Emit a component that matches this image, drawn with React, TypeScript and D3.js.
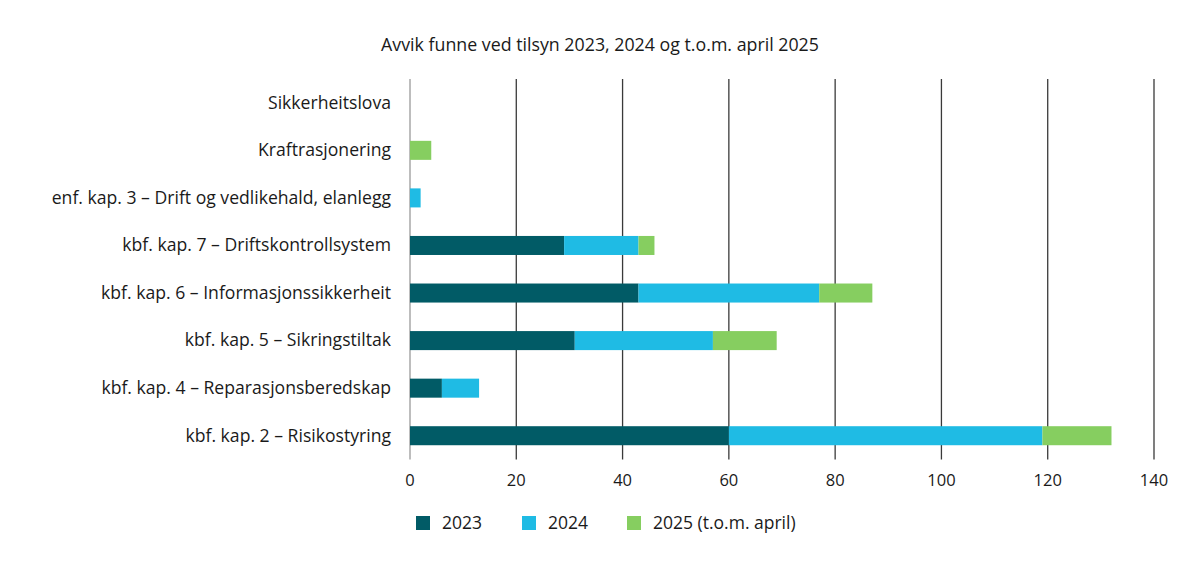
import React from "react";
import * as d3 from "d3";

const categories = [
  "Sikkerheitslova",
  "Kraftrasjonering",
  "enf. kap. 3 – Drift og vedlikehald, elanlegg",
  "kbf. kap. 7 – Driftskontrollsystem",
  "kbf. kap. 6 – Informasjonssikkerheit",
  "kbf. kap. 5 – Sikringstiltak",
  "kbf. kap. 4 – Reparasjonsberedskap",
  "kbf. kap. 2 – Risikostyring",
];
const values2023 = [0, 0, 0, 29, 43, 31, 6, 60];
const values2024 = [0, 0, 2, 14, 34, 26, 7, 59];
const values2025 = [0, 4, 0, 3, 10, 12, 0, 13];
const seriesNames = ["2023", "2024", "2025 (t.o.m. april)"];
const seriesColors = ["#015b66", "#1fbbe4", "#86ce60"];
const xTicks = [0, 20, 40, 60, 80, 100, 120, 140];
const title = "Avvik funne ved tilsyn 2023, 2024 og t.o.m. april 2025";

const W = 1200;
const H = 569;
const FONT = "'Open Sans', 'Noto Sans', sans-serif";

export default function App() {
  const x = d3.scaleLinear().domain([0, 140]).range([410, 1154]);
  const y = d3.scaleBand<string>().domain(categories).range([79, 459.5]).paddingInner(0.6).paddingOuter(0.3);

  const rows = categories.map((c, i) => ({
    cat: c,
    v0: values2023[i],
    v1: values2024[i],
    v2: values2025[i],
  }));
  const stack = d3.stack<any>().keys(["v0", "v1", "v2"])(rows);

  const legendX = [416, 522, 627];

  return (
    <svg
      width={W}
      height={H}
      style={{ position: "absolute", left: 0, top: 0, background: "#fff" }}
      fontFamily={FONT}
    >
      <text x={600} y={51} textAnchor="middle" fontSize={17.8} fill="#1a1a1a">
        {title}
      </text>
      {xTicks.map((t) => (
        <g key={t}>
          <line
            x1={x(t)}
            x2={x(t)}
            y1={79}
            y2={459.5}
            stroke={t === 0 ? "#9a9a9a" : "#3a3a3a"}
            strokeWidth={1.3}
          />
          <text x={x(t)} y={486} textAnchor="middle" fontSize={16.5} fill="#1a1a1a">
            {t}
          </text>
        </g>
      ))}
      {stack.map((s, si) =>
        s.map((d, di) =>
          d[1] - d[0] > 0 ? (
            <rect
              key={si + "-" + di}
              x={x(d[0])}
              y={y(categories[di])}
              width={x(d[1]) - x(d[0])}
              height={y.bandwidth()}
              fill={seriesColors[si]}
            />
          ) : null
        )
      )}
      {categories.map((c) => (
        <text
          key={c}
          x={391}
          y={(y(c) as number) + y.bandwidth() / 2}
          dy="0.33em"
          textAnchor="end"
          fontSize={17.6}
          fill="#1a1a1a"
        >
          {c}
        </text>
      ))}
      {seriesNames.map((n, i) => (
        <g key={n}>
          <rect x={legendX[i]} y={516} width={14} height={14} fill={seriesColors[i]} />
          <text x={legendX[i] + 26} y={523} dy="0.35em" fontSize={17.5} fill="#1a1a1a">
            {n}
          </text>
        </g>
      ))}
    </svg>
  );
}
